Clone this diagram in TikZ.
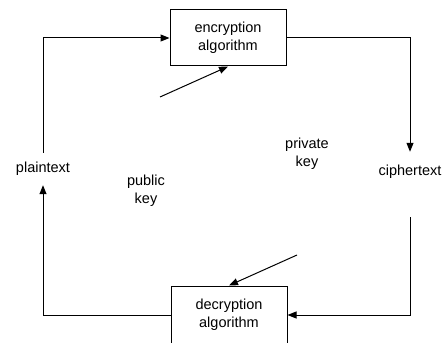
\documentclass[tikz,border=0pt]{standalone}
\usepackage{fontspec}
\setmainfont{Liberation Sans}
\usetikzlibrary{arrows.meta}
\begin{document}
\begin{tikzpicture}[x=1pt, y=-1pt,
  every node/.style={font=\fontsize{14.5}{18}\selectfont, align=center},
  algbox/.style={draw, line width=1pt, minimum width=116pt, inner sep=0pt},
  lbl/.style={inner sep=0pt},
  flow/.style={line width=1pt, -{Triangle[length=9pt, width=7pt]}}]
  \useasboundingbox (0,0) rectangle (446,342);
  % algorithm boxes
  \node[algbox, minimum height=56pt] (enc) at (228,38) {encryption\\algorithm};
  \node[algbox, minimum height=58pt] (dec) at (229,315) {decryption\\algorithm};
  % message labels
  \node[lbl, minimum height=32pt] (plain) at (43,169) {plaintext};
  \node[lbl, minimum height=40pt] (cipher) at (410,172) {ciphertext};
  % key labels
  \node[lbl] (pub) at (146,191) {public\\key};
  \node[lbl] (priv) at (307,154) {private\\key};
  \coordinate (pubend) at (160,97);
  \coordinate (privend) at (297,255);
  % data flow around the loop
  \draw[flow] (plain.north) |- (enc.west);
  \draw[flow] (enc.east) -| (cipher.north);
  \draw[flow, shorten <=25pt] (cipher.south) |- (dec.east);
  \draw[flow] (dec.west) -| (plain.south);
  % keys fed into the algorithms
  \draw[flow] (pubend) -- (enc.south);
  \draw[flow] (privend) -- (dec.north);
\end{tikzpicture}
\end{document}
